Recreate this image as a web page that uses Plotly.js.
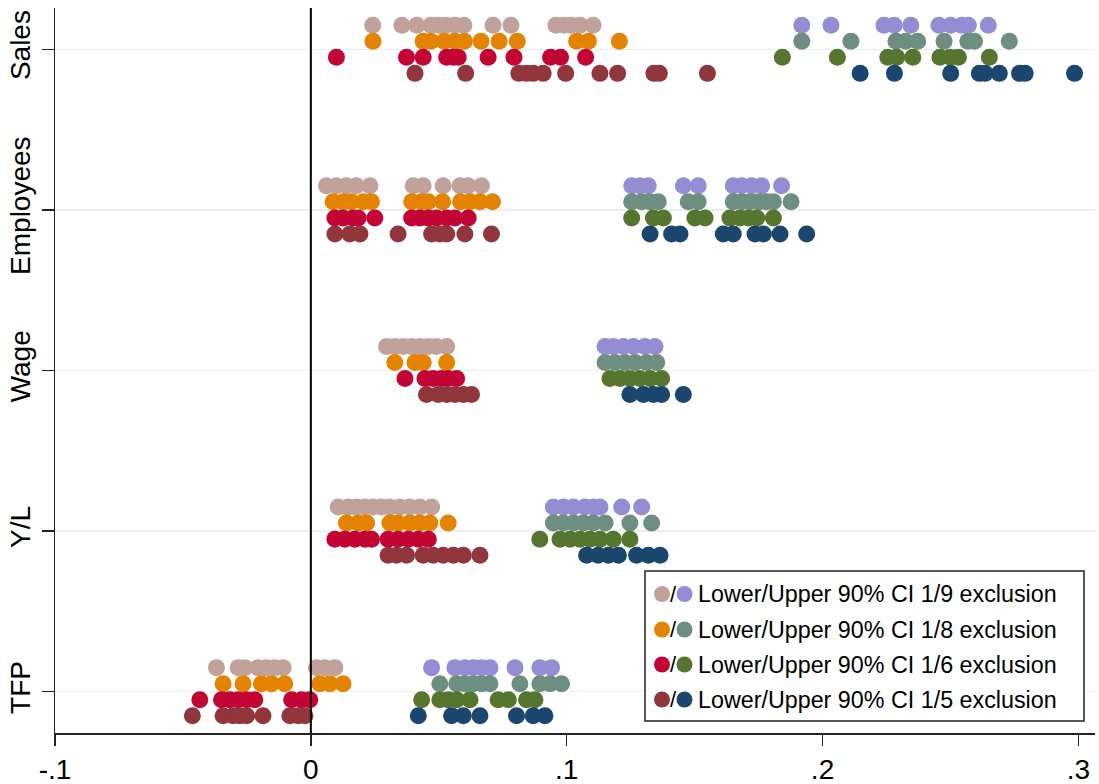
<!DOCTYPE html>
<html>
<head>
<meta charset="utf-8">
<script src="https://cdn.plot.ly/plotly-3.0.1.min.js"></script>
<style>html,body{margin:0;padding:0;background:#fff;}#chart{width:1099px;height:784px;}</style>
</head>
<body>
<div id="chart"></div>
<script>
// Categories (top to bottom)
const categories = ['Sales', 'Employees', 'Wage', 'Y/L', 'TFP'];
const xTickVals = [-0.1, 0, 0.1, 0.2, 0.3];
const xTickText = ['-.1', '0', '.1', '.2', '.3'];
const legendLabels = [
  'Lower/Upper 90% CI 1/9 exclusion',
  'Lower/Upper 90% CI 1/8 exclusion',
  'Lower/Upper 90% CI 1/6 exclusion',
  'Lower/Upper 90% CI 1/5 exclusion'
];

// Each array: one list of values per category, in the order of `categories`
const lower19 = [
  [0.0242, 0.0356, 0.0414, 0.0469, 0.0500, 0.0528, 0.0563, 0.0598, 0.0712, 0.0782, 0.0958, 0.0990, 0.1017, 0.1052, 0.1103],
  [0.0061, 0.0100, 0.0139, 0.0178, 0.0231, 0.0400, 0.0439, 0.0517, 0.0583, 0.0615, 0.0667],
  [0.0296, 0.0328, 0.0361, 0.0394, 0.0426, 0.0459, 0.0491, 0.0531],
  [0.0107, 0.0146, 0.0178, 0.0211, 0.0243, 0.0276, 0.0309, 0.0348, 0.0387, 0.0426, 0.0472],
  [-0.0369, -0.0284, -0.0258, -0.0206, -0.0174, -0.0141, -0.0108, 0.0022, 0.0055, 0.0094]
];
const upper19 = [
  [0.1919, 0.2033, 0.2240, 0.2280, 0.2345, 0.2455, 0.2501, 0.2544, 0.2570, 0.2648],
  [0.1254, 0.1286, 0.1319, 0.1456, 0.1514, 0.1651, 0.1684, 0.1723, 0.1762, 0.1840],
  [0.1150, 0.1182, 0.1221, 0.1261, 0.1306, 0.1345],
  [0.0948, 0.0987, 0.1026, 0.1071, 0.1104, 0.1130, 0.1215, 0.1293],
  [0.0472, 0.0563, 0.0602, 0.0635, 0.0667, 0.0700, 0.0798, 0.0895, 0.0941]
];
const lower18 = [
  [0.0243, 0.0439, 0.0469, 0.0521, 0.0563, 0.0600, 0.0665, 0.0736, 0.0807, 0.1039, 0.1085, 0.1206],
  [0.0087, 0.0126, 0.0159, 0.0205, 0.0237, 0.0394, 0.0433, 0.0459, 0.0515, 0.0585, 0.0622, 0.0661, 0.0710],
  [0.0328, 0.0407, 0.0439, 0.0531],
  [0.0139, 0.0185, 0.0218, 0.0309, 0.0341, 0.0387, 0.0426, 0.0465, 0.0537],
  [-0.0343, -0.0265, -0.0193, -0.0154, -0.0102, 0.0035, 0.0074, 0.0126]
];
const upper18 = [
  [0.1919, 0.2111, 0.2287, 0.2325, 0.2372, 0.2475, 0.2568, 0.2594, 0.2730],
  [0.1254, 0.1293, 0.1326, 0.1358, 0.1475, 0.1514, 0.1651, 0.1684, 0.1717, 0.1749, 0.1782, 0.1808, 0.1877],
  [0.1150, 0.1189, 0.1228, 0.1267, 0.1312, 0.1352],
  [0.0948, 0.0987, 0.1026, 0.1065, 0.1104, 0.1150, 0.1247, 0.1332],
  [0.0504, 0.0570, 0.0602, 0.0635, 0.0667, 0.0700, 0.0817, 0.0895, 0.0935, 0.0980]
];
const lower16 = [
  [0.0100, 0.0374, 0.0439, 0.0531, 0.0557, 0.0576, 0.0693, 0.0794, 0.0937, 0.0976, 0.1074],
  [0.0094, 0.0126, 0.0165, 0.0185, 0.0250, 0.0394, 0.0426, 0.0459, 0.0491, 0.0531, 0.0563, 0.0615],
  [0.0368, 0.0446, 0.0478, 0.0511, 0.0537, 0.0570],
  [0.0094, 0.0133, 0.0172, 0.0211, 0.0237, 0.0302, 0.0341, 0.0381, 0.0420, 0.0459],
  [-0.0434, -0.0349, -0.0317, -0.0284, -0.0251, -0.0219, -0.0075, -0.0036, -0.0004]
];
const upper16 = [
  [0.1843, 0.2058, 0.2255, 0.2290, 0.2353, 0.2459, 0.2499, 0.2531, 0.2652],
  [0.1254, 0.1339, 0.1378, 0.1501, 0.1541, 0.1638, 0.1677, 0.1710, 0.1743, 0.1808],
  [0.1169, 0.1208, 0.1247, 0.1286, 0.1326, 0.1371],
  [0.0895, 0.0974, 0.1013, 0.1052, 0.1091, 0.1130, 0.1182, 0.1247],
  [0.0433, 0.0504, 0.0537, 0.0570, 0.0622, 0.0732, 0.0772, 0.0843, 0.0876]
];
const lower15 = [
  [0.0407, 0.0605, 0.0813, 0.0843, 0.0869, 0.0908, 0.0996, 0.1130, 0.1199, 0.1341, 0.1362, 0.1550],
  [0.0094, 0.0152, 0.0192, 0.0341, 0.0472, 0.0504, 0.0531, 0.0602, 0.0706],
  [0.0452, 0.0498, 0.0531, 0.0563, 0.0596, 0.0628],
  [0.0302, 0.0335, 0.0374, 0.0439, 0.0478, 0.0517, 0.0557, 0.0596, 0.0661],
  [-0.0463, -0.0343, -0.0304, -0.0278, -0.0251, -0.0187, -0.0082, -0.0050, -0.0023]
];
const upper15 = [
  [0.2147, 0.2281, 0.2501, 0.2613, 0.2635, 0.2691, 0.2770, 0.2792, 0.2985],
  [0.1326, 0.1410, 0.1443, 0.1612, 0.1651, 0.1736, 0.1769, 0.1834, 0.1938],
  [0.1247, 0.1300, 0.1339, 0.1371, 0.1456],
  [0.1078, 0.1123, 0.1163, 0.1202, 0.1273, 0.1319, 0.1365],
  [0.0420, 0.0550, 0.0596, 0.0661, 0.0804, 0.0869, 0.0915]
];

// Styling
const groups = [
  {lower: lower19, upper: upper19, lc: '#C0A29A', uc: '#948DD3', off: 0.15},
  {lower: lower18, upper: upper18, lc: '#E38300', uc: '#6D8E80', off: 0.05},
  {lower: lower16, upper: upper16, lc: '#C20535', uc: '#56752F', off: -0.05},
  {lower: lower15, upper: upper15, lc: '#91363C', uc: '#1B476F', off: -0.15}
];
const FONT = 'Liberation Sans, Arial, Helvetica, sans-serif';
const nCat = categories.length;
const catPos = categories.map((c, i) => nCat - i);

function makeTrace(arr, color, off, name) {
  const x = [], y = [];
  arr.forEach((vals, i) => vals.forEach(v => { x.push(v); y.push(catPos[i] + off); }));
  return {type: 'scatter', mode: 'markers', x: x, y: y, name: name, showlegend: false,
    marker: {size: 17, color: color, line: {width: 0}}, hoverinfo: 'x'};
}
const traces = [];
groups.forEach((g, k) => {
  traces.push(makeTrace(g.lower, g.lc, g.off, 'Lower ' + legendLabels[k]));
  traces.push(makeTrace(g.upper, g.uc, g.off, 'Upper ' + legendLabels[k]));
});

// plot area in pixels (for legend placement)
const L = 55, R = 1095, T = 8, B = 733;
const px = v => (v - L) / (R - L);
const py = v => (B - v) / (B - T);

const shapes = [
  {type: 'line', xref: 'x', yref: 'paper', x0: 0, x1: 0, y0: 0, y1: 1,
   line: {color: '#000', width: 2}, layer: 'above'},
  {type: 'rect', xref: 'paper', yref: 'paper', x0: px(645), x1: px(1084), y0: py(721), y1: py(571),
   line: {color: '#222', width: 1.5}, fillcolor: '#fff', layer: 'above'}
];
const annotations = [];
const rowY = [594, 629.5, 664.5, 699.5];
groups.forEach((g, k) => {
  [[662, g.lc], [684.5, g.uc]].forEach(([cx, col]) => {
    shapes.push({type: 'circle', xref: 'paper', yref: 'paper', xsizemode: 'pixel', ysizemode: 'pixel',
      xanchor: px(cx), yanchor: py(rowY[k]), x0: -8, x1: 8, y0: -8, y1: 8,
      fillcolor: col, line: {width: 0}, layer: 'above'});
  });
  annotations.push({xref: 'paper', yref: 'paper', x: px(673.5), y: py(rowY[k]), text: '/', showarrow: false,
    xanchor: 'center', yanchor: 'middle', font: {family: FONT, size: 22, color: '#000'}});
  annotations.push({xref: 'paper', yref: 'paper', x: px(696), y: py(rowY[k]), text: legendLabels[k], showarrow: false,
    xanchor: 'left', yanchor: 'middle', font: {family: FONT, size: 23.3, color: '#000'}});
});

const layout = {
  width: 1099, height: 784,
  margin: {l: L, r: 1099 - R, t: T, b: 784 - B, pad: 0},
  paper_bgcolor: '#fff', plot_bgcolor: '#fff',
  showlegend: false,
  font: {family: FONT, color: '#000'},
  xaxis: {range: [-0.1, 0.3065], tickvals: xTickVals, ticktext: xTickText,
    ticks: 'outside', ticklen: 11, tickwidth: 1.5, tickcolor: '#222',
    showline: true, linecolor: '#222', linewidth: 1.5, showgrid: false, zeroline: false,
    tickfont: {family: FONT, size: 28, color: '#000'}},
  yaxis: {range: [0.743, 5.257], tickvals: catPos, ticktext: categories, tickangle: -90,
    ticks: 'outside', ticklen: 12, tickwidth: 1.5, tickcolor: '#222',
    showline: true, linecolor: '#222', linewidth: 1.5,
    showgrid: true, gridcolor: '#E6EFF1', gridwidth: 1.5, zeroline: false,
    tickfont: {family: FONT, size: 28, color: '#000'}},
  shapes: shapes,
  annotations: annotations
};

Plotly.newPlot('chart', traces, layout, {displayModeBar: false, staticPlot: true});
</script>
</body>
</html>
